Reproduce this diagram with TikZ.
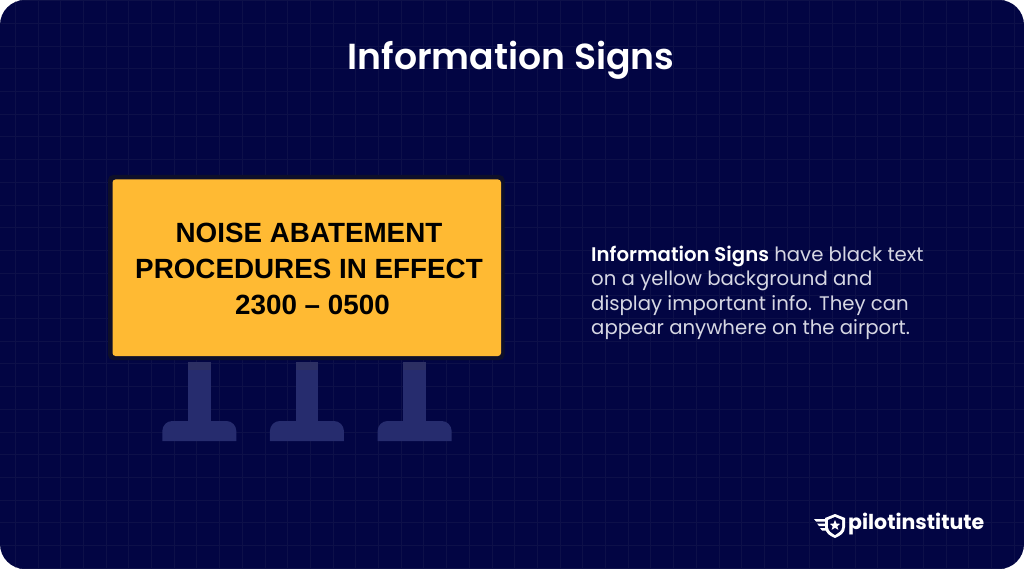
\documentclass[tikz,border=0pt]{standalone}
\usepackage{fontspec}
\usepackage{xcolor}
\setmainfont{Poppins}[BoldFont=Poppins SemiBold]
\newfontfamily\signfont{Liberation Sans}
\newfontfamily\logofont{Poppins Bold}
\definecolor{navy}{HTML}{020543}
\definecolor{gridline}{HTML}{0D1049}
\definecolor{signedge}{HTML}{0E0F2A}
\definecolor{signyellow}{HTML}{FFBA33}
\definecolor{legblue}{HTML}{262C6E}
\definecolor{legtop}{HTML}{2C2F63}
\definecolor{bodygrey}{HTML}{D6D7E3}
\tikzset{
	titletext/.style={text=white, font=\fontsize{36.2}{36.2}\selectfont\bfseries, inner sep=0pt},
	signtext/.style={text=black, font=\signfont\fontsize{27.8}{36}\selectfont\bfseries, align=center, inner sep=0pt},
	bodytext/.style={text=bodygrey, font=\fontsize{19.7}{24.3}\selectfont, align=left, anchor=north west, inner sep=0pt},
	logotext/.style={text=white, font=\logofont\fontsize{20.5}{20.5}\selectfont, inner sep=0pt, anchor=west},
}
\newcommand{\signleg}[1]{
	\fill[legblue] (#1-11.3, 362) rectangle (#1+11.3, 425);
	\fill[legtop] (#1-11.3, 362) rectangle (#1+11.3, 370);
	\fill[legblue] (#1-37, 441) -- (#1-37, 431) arc (180:270:10) -- (#1+27, 421) arc (270:360:10) -- (#1+37, 441) -- cycle;
}
\begin{document}
\begin{tikzpicture}[x=1pt, y=-1pt]
		\useasboundingbox (0, 0) rectangle (1024, 569);
		\fill[white] (0, 0) rectangle (1024, 569);
		\fill[navy, rounded corners=25pt] (0, 0) rectangle (1024, 569);
		% grid
		\begin{scope}
			\clip[rounded corners=25pt] (0, 0) rectangle (1024, 569);
			\foreach \i in {0,...,45} {
				\draw[gridline, line width=0.7pt] (15.2+22.7*\i, 0) -- (15.2+22.7*\i, 569);
			}
			\foreach \j in {0,...,25} {
				\draw[gridline, line width=0.7pt] (0, 0.6+22.7*\j) -- (1024, 0.6+22.7*\j);
			}
		\end{scope}
		% legs
		\signleg{199.3}
		\signleg{306.9}
		\signleg{414.6}
		% sign
		\fill[signedge, rounded corners=5pt] (108, 175) rectangle (504.5, 360);
		\fill[signyellow, rounded corners=3pt] (112.5, 179.5) rectangle (501, 356);
		\node[titletext] (title) at (511, 60.5) {Information Signs};
		\node[signtext] (signlabel) at (309, 268.5) {NOISE ABATEMENT\\PROCEDURES IN EFFECT\\\hspace*{7pt}2300 – 0500};
		\node[bodytext] (body) at (591, 246) {\textcolor{white}{\textbf{Information Signs}} have black text\\on a yellow background and\\display important info. They can\\appear anywhere on the airport.};
		% logo
		\fill[white] (835, 514) -- (845, 518) -- (845, 527) .. controls (845, 533) and (840, 536) .. (835, 538) .. controls (830, 536) and (825, 533) .. (825, 527) -- (825, 518) -- cycle;
		\fill[navy] (835, 517) -- (842, 520) -- (842, 527) .. controls (842, 531) and (838, 533) .. (835, 535) .. controls (832, 533) and (828, 531) .. (828, 527) -- (828, 520) -- cycle;
		\fill[white] (835, 520) -- (836.5, 523.6) -- (840.2, 523.8) -- (837.3, 526.2) -- (838.3, 529.8) -- (835, 527.8) -- (831.7, 529.8) -- (832.7, 526.2) -- (829.8, 523.8) -- (833.5, 523.6) -- cycle;
		\fill[white] (814, 519) -- (825, 519) -- (825, 521.5) -- (816, 521.5) -- cycle;
		\fill[white] (817, 523.5) -- (825, 523.5) -- (825, 526) -- (819, 526) -- cycle;
		\fill[white] (820, 528) -- (826, 528) -- (827, 530.5) -- (822, 530.5) -- cycle;
		\node[logotext] (logo) at (848, 524) {pilotinstitute};
		\end{tikzpicture}
\end{document}
